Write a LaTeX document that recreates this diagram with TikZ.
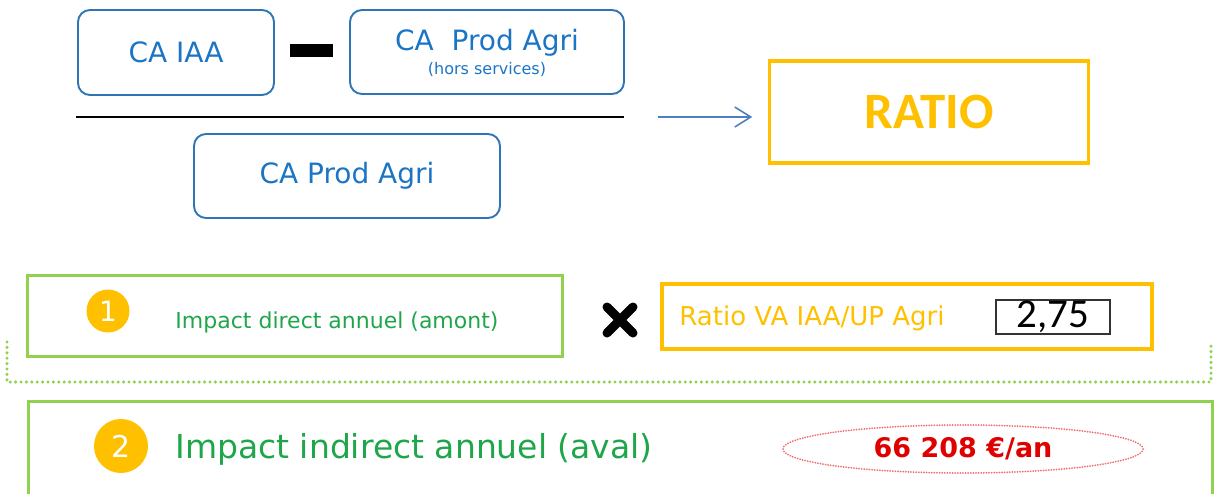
\documentclass[tikz,border=0pt]{standalone}
\usepackage{fontspec}
\setmainfont{DejaVu Sans}
\newfontfamily\calfont{Carlito}
\usetikzlibrary{arrows.meta,shapes.geometric}
\definecolor{cblue}{HTML}{2E75B6}
\definecolor{tblue}{HTML}{1B75C4}
\definecolor{ablue}{HTML}{4F7FC0}
\definecolor{cgreen}{HTML}{92D050}
\definecolor{tgreen}{HTML}{1FA64A}
\definecolor{cyel}{HTML}{FFC000}
\definecolor{cred}{HTML}{E00000}
\definecolor{ered}{HTML}{EE7070}
\tikzset{
  bluebox/.style={draw=cblue, line width=1.9pt, rounded corners=12pt, inner sep=0pt, text=tblue, align=center},
  greenbox/.style={draw=cgreen, line width=3pt, inner sep=0pt},
  yelbox/.style={draw=cyel, line width=3.5pt, inner sep=0pt},
  numdot/.style={circle, fill=cyel, inner sep=0pt, text=white},
  gtext/.style={text=tgreen, inner sep=0pt},
  dotline/.style={draw=cgreen, line width=3.4pt, line cap=round, dash pattern=on 0pt off 5.4pt},
  arrowline/.style={draw=ablue, line width=1.6pt, line join=miter}
}
\begin{document}
\begin{tikzpicture}[x=1pt,y=-1pt]
\useasboundingbox (0,0) rectangle (1214,493);
\clip (0,0) rectangle (1214,493);
% top fraction
\node[bluebox, minimum width=196pt, minimum height=85pt] (caiaa) at (176,52.5) {\fontsize{28}{30}\selectfont CA IAA};
\node[fill=black, minimum width=43pt, minimum height=13pt, inner sep=0pt] (minus) at (311,50) {};
\node[bluebox, minimum width=274pt, minimum height=84pt] (caprod) at (487,52) {};
\node[text=tblue, inner sep=0pt] (caprodt) at (487,43) {\fontsize{28}{30}\selectfont CA\ \ Prod Agri};
\node[text=tblue, inner sep=0pt] (hors) at (487,69) {\fontsize{16}{18}\selectfont (hors services)};
\coordinate (fl) at (76,117);
\coordinate (fr) at (624,117);
\draw[line width=2pt] (fl) -- (fr);
\node[bluebox, minimum width=306pt, minimum height=84pt] (caprod2) at (347,176) {\fontsize{28}{30}\selectfont CA Prod Agri};
% ratio
\node[yelbox, minimum width=319pt, minimum height=102pt, text=cyel] (ratio) at (929,112) {\calfont\bfseries\fontsize{51}{54}\selectfont RATIO};
\coordinate (a1) at (658,117);
\coordinate (tip) at ([xshift=-17pt]a1 -| ratio.west);
\draw[arrowline] (a1) -- (tip);
\draw[arrowline] ([shift={(-16pt,-10pt)}]tip) -- (tip) -- ([shift={(-16pt,10pt)}]tip);
% row 1
\node[greenbox, minimum width=535pt, minimum height=81pt] (box1) at (294.5,315.5) {};
\node[numdot, minimum width=42pt, minimum height=43pt] (n1) at (108,311) {\fontsize{28}{30}\selectfont 1};
\node[gtext] (t1) at (337,322) {\fontsize{22}{24}\selectfont Impact direct annuel (amont)};
\coordinate (x1) at (607,307);
\coordinate (x2) at (633,333);
\coordinate (x3) at (607,333);
\coordinate (x4) at (633,307);
\draw[line width=9pt, line cap=round] (x1) -- (x2) (x3) -- (x4);
\node[yelbox, minimum width=490pt, minimum height=65pt] (box2) at (907,316.5) {};
\node[text=cyel, inner sep=0pt] (t2) at (812,318) {\fontsize{26}{28}\selectfont Ratio VA IAA/UP Agri};
\node[draw=black!80, line width=1.6pt, minimum width=114pt, minimum height=34pt, inner sep=0pt] (val) at (1053,317) {\calfont\fontsize{41}{42}\selectfont 2,75};
% dotted bracket
\coordinate (b1) at (7,342);
\coordinate (b2) at (7,382);
\coordinate (b3) at (1211,382);
\coordinate (b4) at (1211,342);
\draw[dotline] (b1) -- (b2) -- (b3) -- (b4);
% row 2
\node[greenbox, minimum width=1184pt, minimum height=130pt, anchor=north west] (box3) at (27,400) {};
\node[numdot, minimum width=52pt, minimum height=54pt] (n2) at (121,446) {\fontsize{30}{32}\selectfont 2};
\node[gtext] (t3) at (414,449) {\fontsize{33}{35}\selectfont Impact indirect annuel (aval)};
\node[ellipse, draw=ered, line width=2pt, line cap=round, dash pattern=on 0pt off 2.6pt, minimum width=360pt, minimum height=48pt, inner sep=0pt] (ell) at (963,449) {};
\node[text=cred, inner sep=0pt] (val2) at (963,449) {\bfseries\fontsize{27}{29}\selectfont 66 208 €/an};
\end{tikzpicture}
\end{document}
